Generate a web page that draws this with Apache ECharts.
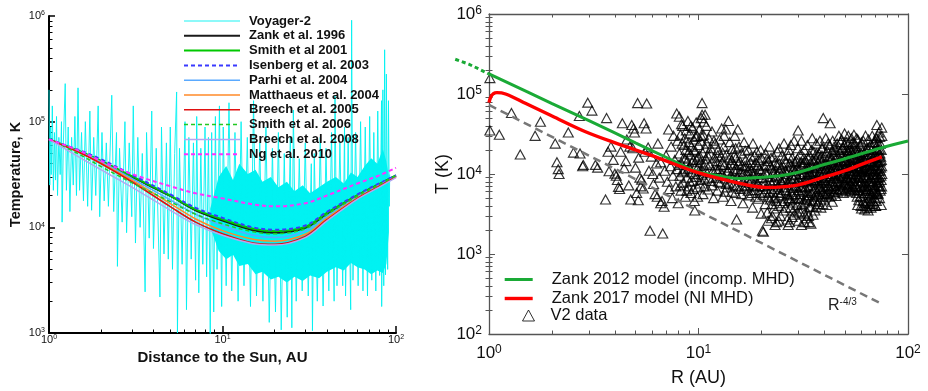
<!DOCTYPE html>
<html><head><meta charset="utf-8">
<script src="https://cdn.jsdelivr.net/npm/echarts@6/dist/echarts.min.js"></script>
<style>html,body{margin:0;padding:0;background:#fff}#c{width:928px;height:391px}</style>
</head><body><div id="c"></div>
<script>
// ---------------- LEFT PANEL DATA ----------------
const modelR = [1, 1.5, 2, 3, 5, 7, 10, 15, 20, 30, 40, 60, 80, 100];
const zank1996 = [68000, 52000, 42000, 30000, 19800, 14500, 11600, 9400, 8900, 9900, 13500, 20000, 25500, 30800];
const smith2001 = [68000, 52500, 42500, 30500, 20000, 14800, 11900, 9700, 9200, 10100, 13700, 20200, 25700, 31000];
const isenberg2003 = [68000, 53500, 44000, 31500, 20500, 15300, 12300, 10000, 9500, 10400, 14000, 20500, 26000, 31000];
const parhi2004 = [68000, 52000, 41500, 29000, 18200, 13300, 10400, 8400, 8000, 9200, 12800, 19500, 25000, 30500];
const matthaeus2004 = [68000, 51000, 40500, 28000, 16800, 12000, 9300, 7700, 7400, 8600, 12200, 19000, 24500, 30000];
const breech2005 = [68000, 51000, 40000, 27000, 15700, 11200, 8700, 7100, 6900, 8200, 11800, 18800, 24500, 30000];
const smith2006 = [68000, 49000, 37500, 26500, 17500, 13300, 10800, 9100, 8700, 9700, 13200, 19800, 25300, 30800];
const breech2008 = [68000, 46000, 35000, 24000, 14500, 10600, 8400, 7000, 6800, 8000, 11500, 18500, 24000, 29500];
const ng2010 = [68000, 53000, 42500, 32000, 24500, 21000, 18800, 16500, 15800, 16900, 20000, 26000, 31000, 36600];

// Voyager-2 spiky trace (R [AU], T [K])
const voyager = [
 [1.00,200000],[1.01,25100],[1.02,89000],[1.03,31600],[1.045,141000],[1.06,22400],[1.075,79000],[1.09,28000],
 [1.105,112000],[1.12,20000],[1.14,71000],[1.16,31600],[1.18,100000],[1.19,11200],[1.21,63000],[1.24,229000],
 [1.26,22400],[1.29,89000],[1.32,14100],[1.35,71000],[1.38,25100],[1.41,112000],[1.44,20000],[1.47,209000],
 [1.50,22400],[1.54,79000],[1.58,17800],[1.62,100000],[1.67,15800],[1.72,126000],[1.76,14500],[1.81,71000],
 [1.86,20000],[1.92,141000],[1.96,12600],[2.02,79000],[2.08,17800],[2.14,63000],[2.20,15800],[2.30,178000],
 [2.36,14100],[2.45,79000],[2.48,4270],[2.55,56000],[2.64,11200],[2.74,100000],[2.80,8900],[2.90,63000],
 [3.00,12600],[3.06,141000],[3.15,7100],[3.25,71000],[3.35,10000],[3.45,50000],[3.58,2450],[3.65,79000],
 [3.78,7900],[3.91,126000],[4.00,6300],[4.15,56000],[4.36,2190],[4.45,89000],[4.60,5600],[4.75,63000],
 [4.87,5000],[5.00,89000],[5.15,4000],[5.30,50000],[5.44,191000],[5.50,1000],[5.65,56000],[5.85,4470],
 [6.08,100000],[6.20,1660],[6.40,71000],[6.60,5000],[6.80,63000],[7.00,3160],[7.10,112000],[7.30,2400],
 [7.50,56000],[7.70,4470],[7.93,89000],[8.10,3400],[8.30,71000],[8.50,900],[8.66,79000],[8.90,1580],
 [9.10,112000],[9.30,4000],[9.60,141000],[9.89,1780],[10.1,89000],[10.5,2800],[10.9,151000],[11.3,2500],
 [11.8,79000],[12.3,2000],[12.8,100000],[13.3,2800],[13.9,71000],[14.5,1780],[15.1,158000],[15.7,2240],
 [16.4,63000],[17.1,2000],[17.8,89000],[18.6,1260],[19.4,56000],[20.2,1580],[21.0,79000],[21.8,1070],
 [22.7,50000],[23.6,1410],[24.6,71000],[25.1,1120],[25.6,129000],[26.6,2000],[27.7,44700],[28.8,2500],
 [30.0,63000],[31.2,2240],[32.5,40000],[33.0,1050],[33.8,50000],[35.2,2000],[36.6,71000],[38.0,1800],
 [39.5,56000],[41.0,2500],[42.5,79000],[44.0,2000],[44.5,178000],[45.7,2800],[47.5,63000],[49.3,2800],
 [50.5,89000],[51.2,2240],[53.0,71000],[54.8,1660],[55.5,912000],[56.5,3160],[58.5,79000],[60.5,2800],
 [62.5,100000],[64.5,2500],[66.5,89000],[68.5,2240],[70.5,112000],[72.5,3160],[74.5,79000],[76.5,2500],
 [78.5,126000],[80.5,3500],[82.5,158000],[82.7,1780],[84.0,200000],[85.0,2800],[86.0,479000],[87.0,3550],
 [88.0,282000],[89.5,4000],[90.5,158000],[91.5,15800],[92.0,31600]
];
// dense Voyager-2 envelope beyond ~9 AU
const bandR  = [8.5, 9.5, 10.5, 11.5, 12.5, 14, 15.5, 17, 19, 21, 23.5, 26, 29, 32, 36, 40, 45, 50, 55, 60, 66, 72, 78, 84, 88, 91];
const bandHi = [15000, 30000, 38000, 28000, 40000, 32000, 35000, 27000, 30000, 24000, 27000, 22000, 25000, 21000, 24000, 27000, 30000, 26000, 33000, 30000, 38000, 45000, 40000, 55000, 42000, 30000];
const bandLo = [10000, 6000, 5000, 5500, 4300, 4500, 3600, 3800, 3200, 3400, 3000, 3400, 3100, 3500, 3300, 3800, 4200, 3900, 4600, 4200, 4000, 3600, 3900, 3700, 4500, 9000];

// ---------------- RIGHT PANEL DATA ----------------
const zank2012DotR = [0.69, 0.8, 0.9, 1.0];
const zank2012DotT = [272000, 236000, 204000, 178000];
const zank2012R = [1, 2, 3, 5, 7, 9.6, 12, 15.8, 20, 25, 30, 38, 50, 73.5, 100];
const zank2012T = [178000, 76000, 46500, 24500, 16200, 11000, 9700, 8800, 9100, 9600, 10500, 12700, 15500, 21000, 25800];
const zank2017R = [1.0, 1.02, 1.05, 1.09, 1.2, 1.5, 2, 2.87, 4, 6, 9.6, 13, 17, 21, 25, 30, 38, 50, 60, 75];
const zank2017T = [78000, 92000, 101000, 104000, 100000, 76000, 53000, 34000, 24500, 17000, 10700, 8600, 7300, 6800, 6900, 7300, 8800, 11000, 13200, 16400];
const powerLawR = [1, 75];
const powerLawT = [73000, 237];
const v2Data = [
 [1.01,158000],[1.01,35000],[1.12,31000],[1.28,58000],[1.41,17500],[1.66,30000],[1.76,45000],[2.07,24000],
 [2.11,14000],[2.14,11500],[2.16,10000],[2.39,33000],[2.53,18500],[2.72,18000],[2.7,53000],[2.8,12500],
 [2.82,13000],[2.96,78000],[3.1,62000],[3.22,13000],[3.3,12000],[3.6,4800],[3.64,50000],[3.7,19000],
 [3.82,22000],[3.74,10800],[3.92,15000],[3.99,10100],
 [4.05,9500],[4.1,8400],[4.15,6900],[4.2,6500],[4.25,19000],[4.33,43000],[4.42,11800],[4.5,14500],[4.55,27000],
 [4.65,7200],[4.7,22000],[4.75,4800],[4.8,41000],[4.85,21000],[4.9,37000],[4.95,33000],[5.0,12000],[5.07,5800],
 [5.12,77000],[5.16,4700],[5.18,16000],[5.25,9000],[5.3,7000],[5.35,8500],[5.45,6600],[5.5,43000],[5.55,19000],
 [5.62,37000],[5.66,76000],[5.75,21500],[5.8,11000],[5.87,1950],[5.95,16500],[6.05,10000],[6.1,7500],[6.2,5600],
 [6.3,13500],[6.35,5200],[6.4,24000],[6.5,9000],[6.6,4300],[6.6,14000],[6.7,4600],[6.75,1800],[6.85,3900],
 [6.9,11000],[7.0,17000],[7.1,8000],[7.2,36000],[7.25,6500],[7.35,12500],[7.4,22000],[7.5,5000],[7.55,9500],
 [7.6,30000],[7.7,15000],[7.8,7000],[7.87,57000],[7.9,11500],[7.95,26000],[8.0,4300],
 [8.1,52000],[8.1,18000],[8.15,9500],[8.2,31000],[8.25,6200],[8.3,13500],[8.35,24000],[8.4,40000],[8.45,7800],
 [8.5,16000],[8.55,11000],[8.6,28000],[8.65,5200],[8.7,20000],[8.75,35000],[8.8,9000],[8.85,14500],[8.9,46000],
 [8.95,7000],[9.0,25000],[9.05,12000],[9.1,32000],[9.15,17500],[9.2,5800],[9.25,22000],[9.3,10500],[9.35,38000],
 [9.4,8200],[9.45,15000],[9.5,27000],[9.55,4600],[9.6,3500],[9.65,19500],[9.7,12500],[9.75,44000],[9.8,9200],
 [9.85,30000],[9.9,6800],[9.95,16500],[10.0,23000],[10.05,11000],[10.1,36000],[10.15,7600],[10.2,14000],
 [10.25,26000],[10.3,50000],[10.35,9800],[10.4,77000],[10.4,55000],[10.45,18500],[10.5,5600],[10.55,31000],
 [10.6,12800],[10.7,8600],[10.75,55000],[10.8,21000],[10.85,15500],[10.9,40000],[11.0,10200],[11.1,6400],
 [11.2,28000],[11.3,13000],[11.4,18000],[11.5,8200],[11.6,34000],[11.7,11000],[11.8,5000],[11.9,16000],[12.0,24000],
 [12.1,9000],[12.2,14500],[12.3,6200],[12.4,20000],[12.5,11500],[12.6,27000],[12.7,7800],[12.8,16500],[12.9,37000],
 [13.0,10000],[13.1,5200],[13.2,22000],[13.3,13000],[13.4,8800],[13.5,36000],[13.6,17500],[13.7,6800],[13.9,46000],
 [14.0,12000],[14.1,25000],[14.2,9500],[14.3,4600],[14.4,15000],[14.5,20500],[14.6,7200],[14.8,11000],[14.9,30000],
 [15.0,5800],[15.1,16000],[15.2,2700],[15.3,9000],[15.4,36000],[15.5,13500],[15.6,22000],[15.8,6500],[15.9,10500],
 [16.0,18000],[16.2,8000],[16.3,4300],[16.5,25000],[16.6,12500],[16.8,15000],[17.0,7000],[17.1,9800],[17.3,20000],
 [17.4,5400],[17.6,12000],[17.8,16500],[17.9,8500],[18.1,3800],[18.2,24000],[18.4,10500],[18.6,6300],[18.8,14000],
 [19.0,19000],[19.1,7600],[19.3,4900],[19.5,11500],[19.7,9000],[19.9,3200],[20.0,16000],
 [8.05,13000],[8.2,7200],[8.3,42000],[8.4,10500],[8.55,23000],[8.65,15500],[8.8,6200],[8.9,11500],[9.0,19000],
 [9.1,8000],[9.2,40000],[9.3,14000],[9.45,6500],[9.5,20000],[9.6,10000],[9.7,29000],[9.8,15000],[9.9,5200],
 [10.0,12500],[10.1,17000],[10.2,8400],[10.3,30000],[10.45,11000],[10.6,45000],[10.65,7000],[10.8,13500],
 [10.95,24000],[11.05,17000],[11.25,9000],[11.45,21000],[11.65,7200],[11.85,26000],[12.05,12500],[12.35,17000],
 [12.65,9500],[12.95,14000],[13.25,30000],[13.55,7500],[13.85,11000],[14.15,16000],[14.45,6000],[14.75,13000],
 [15.05,21000],[15.35,11500],[15.7,8500],[16.1,13000],[16.4,6600],[16.7,19500],[17.2,11000],[17.5,7800],
 [17.7,14000],[18.0,5800],[18.3,9500],[18.5,17000],[18.9,7000],[19.2,12800],[19.6,5800],[19.8,20000],
 [12.15,11500],[12.45,8000],[12.75,13000],[13.05,18500],[13.35,6000],[13.65,10500],[13.95,7800],[14.25,13500],
 [14.55,9000],[14.85,17000],[15.15,7000],[15.45,10000],[15.75,14500],[16.05,5600],[16.35,10000],[16.65,7200],
 [16.95,12500],[17.25,6200],[17.55,9000],[17.85,11000],[18.15,7200],[18.45,13000],[18.75,5200],[19.05,9800],
 [19.35,15000],[19.65,7000],[19.95,11000],
 [20.2,1950],[20.4,1900],[20.3,5500],[20.5,8000],[20.6,12500],[20.8,4200],[20.9,18000],[21.0,6500],[21.2,10000],
 [21.3,3300],[21.5,14500],[21.6,7200],[21.8,22000],[22.0,4800],[22.1,9200],[22.3,2800],[22.4,12000],[22.6,6000],
 [22.8,16500],[22.9,3700],[23.1,8400],[23.3,5200],[23.4,11000],[23.6,2500],[23.8,19000],[23.9,6800],[24.1,4000],
 [24.3,13500],[24.4,9000],[24.6,3000],[24.8,5800],[25.0,17000],[25.1,7600],[25.3,10500],[25.5,3500],[25.6,24000],
 [25.8,4600],[26.0,8800],[26.2,14000],[26.3,6200],[26.5,2700],[26.7,11500],[26.8,2300],[27.0,20000],[27.2,5000],
 [27.3,7400],[27.5,3800],[27.7,12800],[27.9,9600],[28.0,16000],[28.2,4400],[28.4,6700],[28.6,26000],[28.7,3100],
 [28.9,10800],[29.1,5600],[29.3,14500],[29.4,8000],[29.6,4100],[29.8,21000],[29.9,35000],[30.0,6300],
 [20.1,9000],[20.7,6000],[21.1,13000],[21.4,5200],[21.9,8200],[22.2,16000],[22.5,4200],[22.7,10500],[23.0,6500],
 [23.2,14000],[23.5,4600],[23.7,9800],[24.0,7200],[24.2,21000],[24.5,5400],[24.7,12000],[25.2,4300],[25.4,8400],
 [25.7,15500],[25.9,6800],[26.1,3800],[26.4,10000],[26.6,5600],[26.9,17000],[27.1,8200],[27.4,4700],[27.6,23000],
 [27.8,6000],[28.1,11000],[28.3,3500],[28.5,8800],[28.8,14000],[29.0,5000],[29.2,7000],[29.5,12000],[29.7,3300],
 [21.5,2600],[22.5,3000],[23.2,2300],[24.2,2600],[27.2,2500],[28.0,2900],[30.0,2600],[31.0,2300],[32.0,2500],[33.5,3000],
 [30.2,11500],[30.4,3400],[30.5,17500],[30.7,7800],[30.9,4900],[31.0,26000],[31.2,9200],[31.4,13500],[31.5,3700],
 [31.7,6000],[31.9,20000],[32.1,10500],[32.2,4400],[32.4,15000],[32.6,8200],[32.8,2800],[32.9,5400],[33.1,23000],
 [33.3,12000],[33.5,7000],[33.7,2500],[33.8,3900],[34.0,17000],[34.2,9800],[34.4,2400],[34.5,5800],[34.7,13500],
 [34.9,28000],[35.1,4600],[35.3,8600],[35.5,19000],[35.7,11000],[35.9,3500],[36.1,6600],[36.3,15500],[36.5,24000],
 [36.7,9000],[36.9,4200],[37.1,12500],[37.3,5600],[37.6,18000],[37.8,7400],[38.0,26000],[38.2,10200],[38.4,3800],
 [38.6,14000],[38.9,6200],[39.1,21000],[39.4,50000],[39.6,8400],[39.8,4800],[40.0,16500],[40.3,11500],[40.5,28000],
 [40.7,6800],[41.0,4100],[41.2,19500],[41.5,9400],[41.7,13000],[42.0,5200],[42.2,23000],[42.5,43000],[42.7,7600],
 [43.0,16000],[43.2,11000],[43.5,4500],[43.7,26000],[44.0,8800],[44.2,14000],[44.5,6000],[44.8,20000],[45.0,10500],
 [30.1,8600],[30.6,5600],[30.8,14000],[31.1,4200],[31.3,7000],[31.6,10000],[31.8,16000],[32.0,3200],[32.3,6800],
 [32.5,12000],[32.7,4800],[33.0,9000],[33.2,3300],[33.4,15500],[33.6,5400],[33.9,10500],[34.1,7200],[34.3,3900],
 [34.6,20000],[34.8,8000],[35.0,12000],[35.2,3100],[35.4,6200],[35.6,14500],[35.8,8200],[36.0,4800],[36.2,10500],
 [36.4,3900],[36.6,18000],[36.8,6000],[37.0,8400],[37.2,14000],[37.4,4500],[37.7,10500],[37.9,6800],[38.1,16000],
 [38.3,5200],[38.5,9000],[38.7,21000],[39.0,12000],[39.2,4200],[39.5,7000],[39.7,13500],[40.1,5600],[40.4,9000],
 [40.6,18500],[40.9,7800],[41.1,12500],[41.4,5800],[41.6,24000],[41.9,10000],[42.1,6500],[42.4,14500],[42.8,11000],
 [43.1,5400],[43.4,19000],[43.6,8000],[43.9,12000],[44.1,5700],[44.4,22000],[44.6,9600],[44.9,7000],
 [45.3,5300],[45.6,17000],[45.9,24000],[46.2,8000],[46.5,12500],[46.8,30000],[47.1,6500],[47.4,19000],[47.7,10000],
 [48.0,14500],[48.3,27000],[48.6,7200],[48.9,21500],[49.2,5800],[49.5,11800],[49.8,32000],[50.1,16000],[50.4,9000],
 [50.7,25000],[51.0,6800],[51.3,13500],[51.6,19500],[51.9,30000],[52.2,8500],[52.5,11000],[52.8,6000],[53.1,22000],
 [53.4,15000],[53.7,28000],[54.0,9600],[54.3,7000],[54.6,18000],[54.9,12500],[55.2,31000],[55.5,6300],[55.8,24000],
 [56.1,10000],[56.4,15500],[56.7,5800],[57.0,20000],[57.3,8200],[57.6,27000],[57.9,12000],[58.2,4700],[58.5,17000],
 [58.8,7400],[59.1,22500],[59.4,10500],[59.7,4000],[60.0,14000],[60.0,3700],[57.5,4100],[62.0,4300],[66.0,4200],
 [45.2,15000],[45.5,8800],[45.8,11500],[46.1,6000],[46.4,20000],[46.7,9500],[47.0,14000],[47.3,7800],[47.6,25000],
 [47.9,11000],[48.2,6300],[48.5,17000],[48.8,9500],[49.1,13000],[49.4,7500],[49.7,23000],[50.0,10500],[50.3,6200],
 [50.6,14500],[50.9,20000],[51.2,9000],[51.5,7200],[51.8,24000],[52.1,12000],[52.4,16500],[52.7,7600],[53.0,10000],
 [53.3,6500],[53.6,19000],[53.9,13000],[54.2,8200],[54.5,25000],[54.8,10800],[55.1,6800],[55.4,16000],[55.7,9000],
 [56.0,20000],[56.3,7000],[56.6,12500],[56.9,28000],[57.2,5200],[57.5,14000],[57.8,9300],[58.1,19000],[58.4,6300],
 [58.7,11500],[59.0,15000],[59.3,5300],[59.6,8000],[59.9,25000],
 [60.3,9000],[60.6,19000],[60.9,5200],[61.2,26000],[61.5,12000],[61.8,7000],[62.1,3600],[62.4,16000],[62.7,30000],
 [63.0,9800],[63.3,4400],[63.6,21000],[63.9,6200],[64.2,13500],[64.5,3500],[64.8,27000],[65.1,8200],[65.4,17500],
 [65.7,5000],[66.0,11000],[66.3,23000],[66.6,3800],[66.9,14500],[67.2,7400],[67.5,30000],[67.8,10000],[68.1,4600],
 [68.4,19000],[68.7,6000],[69.0,12500],[69.3,25000],[69.6,8600],[69.9,4000],[70.2,16000],[70.5,28000],[70.8,5600],
 [71.0,41000],[71.0,28000],[71.3,11500],[71.6,20000],[71.9,7200],[72.2,14000],[72.5,33000],[72.8,9200],[73.1,5000],
 [73.4,18000],[73.7,24000],[74.0,12000],[74.3,6500],[74.6,15000],[74.9,38000],[75.0,10000],[70.0,4000],[74.5,4100],
 [60.2,12500],[60.5,6200],[60.8,14500],[61.1,4600],[61.4,9500],[61.7,17500],[62.0,7800],[62.3,4000],[62.6,11500],
 [62.9,20000],[63.2,6500],[63.5,13000],[63.8,3800],[64.1,9200],[64.4,16500],[64.7,5500],[65.0,11000],[65.3,22000],
 [65.6,7800],[65.9,4400],[66.2,14000],[66.5,8800],[66.8,5600],[67.1,20000],[67.4,11500],[67.7,4200],[68.0,16000],
 [68.3,8000],[68.6,25000],[68.9,5200],[69.2,10000],[69.5,14000],[69.8,6800],[70.1,21000],[70.4,9000],[70.7,4600],
 [71.2,14000],[71.5,7800],[71.8,24000],[72.1,5600],[72.4,11000],[72.7,17000],[73.0,8000],[73.3,29000],[73.6,6200],
 [73.9,14500],[74.2,9500],[74.5,20000],[74.8,7000],[75.0,30000],
 [20.35,7000],[20.85,10500],[21.25,15500],[21.7,5800],[22.05,12500],[22.35,7600],[22.85,5000],[23.25,9400],
 [23.65,13000],[24.05,5900],[24.35,10800],[24.85,8200],[25.25,12800],[25.65,6300],[26.05,11000],[26.45,7800],
 [26.85,4900],[27.25,13500],[27.65,8600],[28.05,5400],[28.45,12000],[28.85,7200],[29.25,9800],[29.65,15500],
 [30.05,4900],[30.45,10000],[30.85,6800],[31.25,12500],[31.65,8000],[32.05,14000],[32.45,5100],[32.85,9600],
 [33.25,6100],[33.65,11500],[34.05,4700],[34.45,8400],[34.85,15000],[35.25,10000],[35.65,5200],[36.05,7800],
 [36.45,12800],[36.85,5400],[37.25,9800],[37.65,6500],[38.05,11800],[38.45,7800],[38.85,17000],[39.25,5900],
 [39.65,10500],[40.05,8200],[40.45,13500],[40.85,5600],[41.25,10800],[41.65,7200],[42.05,16500],[42.45,9000],
 [42.85,6200],[43.25,13500],[43.65,10000],[44.05,7100],[44.45,17500],[44.85,11800],[45.25,8200],[45.65,6500],
 [46.05,13000],[46.45,9800],[46.85,16000],[47.25,7200],[47.65,12000],[48.05,9000],[48.45,21000],[48.85,6600],
 [49.25,10300],[49.65,15000],[50.05,7800],[50.45,12000],[50.85,17000],[51.25,8800],[51.65,11800],[52.05,6600],
 [52.45,14000],[52.85,20000],[53.25,9000],[53.65,12500],[54.05,6200],[54.45,15500],[54.85,8600],[55.25,21000],
 [55.65,11000],[56.05,7400],[56.45,14000],[56.85,9600],[57.25,17500],[57.65,6800],[58.05,11000],[58.45,14000],
 [58.85,9000],[59.25,18500],[59.65,12000],[60.05,7000],[60.45,10500],[60.85,16000],[61.25,6800],[61.65,11000],
 [62.05,14500],[62.45,5800],[62.85,9000],[63.25,16500],[63.65,7200],[64.05,11500],[64.45,20000],[64.85,6500],
 [65.25,9800],[65.65,14000],[66.05,5800],[66.45,11500],[66.85,17500],[67.25,8200],[67.65,13000],[68.05,6200],
 [68.45,10500],[68.85,15500],[69.25,7200],[69.65,11800],[70.05,18000],[70.45,6000],[70.85,9800],[71.25,16000],
 [71.65,5800],[72.05,9000],[72.45,13000],[72.85,20500],[73.25,7000],[73.65,11000],[74.05,16500],[74.45,8400],
 [74.85,12500]
];

// ---------------- TICKS ----------------
const minorR = [2,3,4,5,6,7,8,9,20,30,40,50,60,70,80,90];
const minorTLeft = [2e3,3e3,4e3,5e3,6e3,7e3,8e3,9e3,2e4,3e4,4e4,5e4,6e4,7e4,8e4,9e4,2e5,3e5,4e5,5e5,6e5,7e5,8e5,9e5];
const minorTRight = [200,300,400,500,600,700,800,900].concat(minorTLeft);

const LF = 'Liberation Sans';
const CYAN = '#00f2f2';
const pairs = (xs, ys) => xs.map((x, i) => [x, ys[i]]);
const sup = (fs, ss, col) => ({
  b: {fontSize: fs, fontFamily: LF, color: col, lineHeight: fs + 1},
  s: {fontSize: ss, fontFamily: LF, color: col, verticalAlign: 'top', lineHeight: ss}
});
const supFmt = v => '{b|10}{s|' + Math.round(Math.log10(v)) + '}';

const leftDefs = [
  ['Zank et al. 1996', zank1996, '#1a1a1a', 'solid', 2],
  ['Smith et al 2001', smith2001, '#00c800', 'solid', 2],
  ['Isenberg et al. 2003', isenberg2003, '#3a3aff', [4, 3], 2],
  ['Parhi et al. 2004', parhi2004, '#5aaaff', 'solid', 1.5],
  ['Matthaeus et al. 2004', matthaeus2004, '#ff8a28', 'solid', 1.5],
  ['Breech et al. 2005', breech2005, '#e01010', 'solid', 1.6],
  ['Smith et al. 2006', smith2006, '#22c822', [4, 3], 1.5],
  ['Breech et al. 2008', breech2008, '#b4a6f2', 'solid', 1.5],
  ['Ng et al. 2010', ng2010, '#ff30ff', [4, 3], 2]
];

const series = [];
series.push({
  name: 'Voyager-2', type: 'line', xAxisIndex: 0, yAxisIndex: 0, data: voyager,
  symbol: 'none', lineStyle: {color: CYAN, width: 0.9}, itemStyle: {color: CYAN}, z: 1
});
series.push({
  name: 'vgband', type: 'custom', xAxisIndex: 0, yAxisIndex: 0, z: 1,
  data: bandR.map((r, i) => [r, bandHi[i], bandLo[i]]),
  encode: {x: 0, y: [1, 2]},
  renderItem: function (params, api) {
    if (params.dataIndex !== 0) return null;
    const pts = [];
    for (let i = 0; i < bandR.length; i++) pts.push(api.coord([bandR[i], bandHi[i]]));
    for (let i = bandR.length - 1; i >= 0; i--) pts.push(api.coord([bandR[i], bandLo[i]]));
    return {type: 'polygon', shape: {points: pts}, style: {fill: CYAN}};
  }
});
leftDefs.forEach(d => series.push({
  name: d[0], type: 'line', xAxisIndex: 0, yAxisIndex: 0, data: pairs(modelR, d[1]),
  symbol: 'none', smooth: 0.35, lineStyle: {color: d[2], type: d[3], width: d[4]}, itemStyle: {color: d[2]}, z: 3
}));

series.push({
  name: 'V2 data', type: 'scatter', xAxisIndex: 1, yAxisIndex: 1, data: v2Data,
  symbol: 'triangle', symbolSize: [10, 9],
  itemStyle: {color: 'rgba(0,0,0,0)', borderColor: '#000', borderWidth: 1.15}, z: 2
});
series.push({
  name: 'r43', type: 'line', xAxisIndex: 1, yAxisIndex: 1, data: pairs(powerLawR, powerLawT),
  symbol: 'none', lineStyle: {color: '#777', width: 2.5, type: [8, 5]}, z: 3
});
series.push({
  name: 'Zank 2012 model (incomp. MHD)', type: 'line', xAxisIndex: 1, yAxisIndex: 1,
  data: pairs(zank2012R, zank2012T), symbol: 'none', smooth: 0.35,
  lineStyle: {color: '#1aaa36', width: 3}, itemStyle: {color: '#1aaa36'}, z: 4
});
series.push({
  name: 'z2012dot', type: 'line', xAxisIndex: 4, yAxisIndex: 4,
  data: pairs(zank2012DotR, zank2012DotT), symbol: 'none',
  lineStyle: {color: '#1aaa36', width: 3, type: [4, 3]}, z: 4
});
series.push({
  name: 'Zank 2017 model (NI MHD)', type: 'line', xAxisIndex: 1, yAxisIndex: 1,
  data: pairs(zank2017R, zank2017T), symbol: 'none', smooth: 0.35,
  lineStyle: {color: '#ff0000', width: 3.4}, itemStyle: {color: '#ff0000'}, z: 5
});

const logAxis = (o) => Object.assign({
  type: 'log', logBase: 10, splitLine: {show: false}, axisPointer: {show: false}
}, o);
const minorAxis = (o, vals, col) => Object.assign({
  type: 'value', splitLine: {show: false}, axisLine: {show: false}, axisLabel: {show: false},
  axisTick: {inside: true, length: 3.5, customValues: vals.map(Math.log10), lineStyle: {color: col, width: 1}}
}, o);

const option = {
  animation: false,
  backgroundColor: '#fff',
  grid: [
    {left: 49, top: 16, width: 347, height: 317, outerBoundsMode: 'none'},
    {left: 489, top: 14, width: 419, height: 320, outerBoundsMode: 'none'},
    {left: 49, top: 16, width: 347, height: 317, outerBoundsMode: 'none'},
    {left: 489, top: 14, width: 419, height: 320, outerBoundsMode: 'none'},
    // right panel extended one decade to the left (for the dotted extension below 1 AU)
    {left: 279.5, top: 14, width: 628.5, height: 320, outerBoundsMode: 'none'}
  ],
  xAxis: [
    logAxis({gridIndex: 0, min: 1, max: 100, position: 'bottom',
      axisLine: {lineStyle: {color: '#000', width: 2}},
      axisTick: {inside: true, length: 7, lineStyle: {color: '#000', width: 1.5}},
      axisLabel: {formatter: supFmt, rich: sup(11, 7, '#111'), margin: 1},
      name: 'Distance to the Sun, AU', nameLocation: 'middle', nameGap: 15,
      nameTextStyle: {fontFamily: LF, fontWeight: 'bold', fontSize: 15, color: '#111'}}),
    logAxis({gridIndex: 1, min: 1, max: 100, position: 'bottom',
      axisLine: {lineStyle: {color: '#555', width: 1.3}},
      axisTick: {inside: true, length: 6, lineStyle: {color: '#555', width: 1}},
      axisLabel: {formatter: supFmt, rich: sup(17, 12, '#111'), margin: 10},
      name: 'R (AU)', nameLocation: 'middle', nameGap: 35,
      nameTextStyle: {fontFamily: LF, fontSize: 18, color: '#111'}}),
    logAxis({gridIndex: 1, min: 1, max: 100, position: 'top',
      axisLine: {lineStyle: {color: '#555', width: 1.3}},
      axisTick: {inside: true, length: 6, lineStyle: {color: '#555', width: 1}},
      axisLabel: {show: false}}),
    minorAxis({gridIndex: 2, min: 0, max: 2, position: 'bottom'}, minorR, '#000'),
    logAxis({gridIndex: 4, min: 0.1, max: 100, show: false}),
    minorAxis({gridIndex: 3, min: 0, max: 2, position: 'bottom'}, minorR, '#555'),
    minorAxis({gridIndex: 3, min: 0, max: 2, position: 'top'}, minorR, '#555')
  ],
  yAxis: [
    logAxis({gridIndex: 0, min: 1000, max: 1000000, position: 'left',
      axisLine: {lineStyle: {color: '#000', width: 2}},
      axisTick: {inside: true, length: 6, lineStyle: {color: '#000', width: 1.5}},
      axisLabel: {formatter: supFmt, rich: sup(11, 7, '#111'), margin: 4},
      name: 'Temperature, K', nameLocation: 'middle', nameGap: 26,
      nameTextStyle: {fontFamily: LF, fontWeight: 'bold', fontSize: 14.5, color: '#111'}}),
    logAxis({gridIndex: 1, min: 100, max: 1000000, position: 'left',
      axisLine: {lineStyle: {color: '#555', width: 1.3}},
      axisTick: {inside: true, length: 6, lineStyle: {color: '#555', width: 1}},
      axisLabel: {formatter: supFmt, rich: sup(17, 12, '#111'), margin: 7},
      name: 'T (K)', nameLocation: 'middle', nameGap: 34,
      nameTextStyle: {fontFamily: LF, fontSize: 18, color: '#111'}}),
    logAxis({gridIndex: 1, min: 100, max: 1000000, position: 'right',
      axisLine: {lineStyle: {color: '#555', width: 1.3}},
      axisTick: {inside: true, length: 6, lineStyle: {color: '#555', width: 1}},
      axisLabel: {show: false}}),
    minorAxis({gridIndex: 2, min: 3, max: 6, position: 'left'}, minorTLeft, '#000'),
    logAxis({gridIndex: 4, min: 100, max: 1000000, show: false}),
    minorAxis({gridIndex: 3, min: 2, max: 6, position: 'left'}, minorTRight, '#555'),
    minorAxis({gridIndex: 3, min: 2, max: 6, position: 'right'}, minorTRight, '#555')
  ],
  legend: [
    {data: ['Voyager-2'].concat(leftDefs.map(d => d[0])), left: 183, top: 14.5, orient: 'vertical',
      padding: 0, itemWidth: 56, itemHeight: 10, itemGap: 1.8, selectedMode: false,
      lineStyle: {width: 'inherit'}, itemStyle: {opacity: 0},
      textStyle: {fontFamily: LF, fontWeight: 'bold', fontSize: 13, lineHeight: 13, color: '#111', padding: [0, 0, 0, 4]}},
    {data: ['Zank 2012 model (incomp. MHD)', 'Zank 2017 model (NI MHD)'], left: 503, top: 271, orient: 'vertical',
      padding: 0, itemWidth: 28, itemHeight: 10, itemGap: 2, selectedMode: false,
      lineStyle: {width: 'inherit'}, itemStyle: {opacity: 0},
      textStyle: {fontFamily: LF, fontSize: 16.5, lineHeight: 16, color: '#111', padding: [0, 0, 0, 14]}},
    {data: ['V2 data'], left: 522, top: 307, orient: 'vertical',
      padding: 0, itemWidth: 12, itemHeight: 11, selectedMode: false,
      itemStyle: {color: 'rgba(0,0,0,0)', borderColor: '#000', borderWidth: 1},
      textStyle: {fontFamily: LF, fontSize: 16.5, lineHeight: 16, color: '#111', padding: [0, 0, 0, 11]}}
  ],
  graphic: [
    {type: 'text', left: 828, top: 297, z: 10,
      style: {text: '{b|R}{s|-4/3}', rich: {
        b: {fontSize: 16, fontFamily: LF, fill: '#222', lineHeight: 17},
        s: {fontSize: 10, fontFamily: LF, fill: '#222', verticalAlign: 'top', lineHeight: 10}}}}
  ],
  series: series
};
const chart = echarts.init(document.getElementById('c'));
chart.setOption(option);
</script></body></html>
